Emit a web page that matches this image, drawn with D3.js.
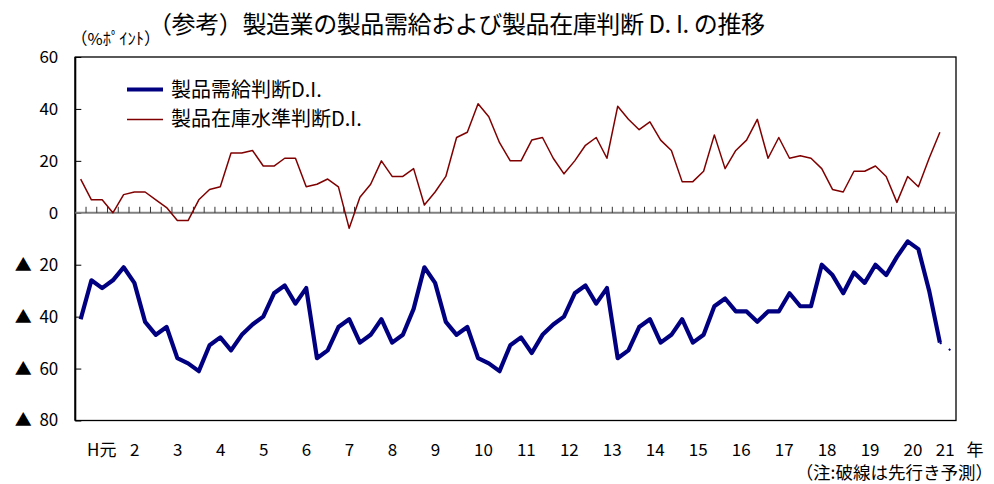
<!DOCTYPE html>
<html><head><meta charset="utf-8">
<script src="https://cdn.jsdelivr.net/npm/d3@7"></script>
<style>
body{margin:0;background:#fff}
svg{display:block}
text{font-family:"Noto Sans CJK JP","Noto Sans",sans-serif;fill:#000}
</style>
</head><body>
<svg id="c" width="994" height="484"></svg>
<script>
// ---- data ----
const yearLabels = ["H元","2","3","4","5","6","7","8","9","10","11","12","13","14","15","16","17","18","19","20","21"];
const quartersPerYear = [4,4,4,4,4,4,4,4,4,4,4,4,4,4,4,4,4,4,4,4,2];
const categories = [];
yearLabels.forEach((yl, k) => { for (let q = 1; q <= quartersPerYear[k]; q++) categories.push(yl + "-" + q); });

// 製品需給判断D.I. (actual, through 21-1)
const demandDI = [-41,-26,-29,-26,-21,-27,-42,-47,-44,-56,
  -58,-61,-51,-48,-53,-47,-43,-40,-31,-28,
  -35,-29,-56,-53,-44,-41,-50,-47,-41,-50,
  -47,-37,-21,-27,-42,-47,-44,-56,-58,-61,
  -51,-48,-54,-47,-43,-40,-31,-28,-35,-29,
  -56,-53,-44,-41,-50,-47,-41,-50,-47,-36,
  -33,-38,-38,-42,-38,-38,-31,-36,-36,-20,
  -24,-31,-23,-27,-20,-24,-17,-11,-14,-30,-50];
// 先行き予測 (21-2)
const demandForecast = [-53];
// 製品在庫水準判断D.I.
const inventoryDI = [13,5,5,0,7,8,8,5,2,-3,
  -3,5,9,10,23,23,24,18,18,21,
  21,10,11,13,10,-6,6,11,20,14,
  14,17,3,8,14,29,31,42,37,27,
  20,20,28,29,21,15,20,26,29,21,
  41,36,32,35,28,24,12,12,16,30,
  17,24,28,36,21,29,21,22,21,17,
  9,8,16,16,18,14,4,14,10,21,31];

const yTicks = [60,40,20,0,-20,-40,-60,-80];
const yTickLabels = ["60","40","20","0","▲\u00a0\u00a020","▲\u00a0\u00a040","▲\u00a0\u00a060","▲\u00a0\u00a080"];
const seriesNames = ["製品需給判断D.I.","製品在庫水準判断D.I."];
const titleText = "（参考）製造業の製品需給および製品在庫判断 D. I. の推移";
const unitText = "（%ﾎﾟｲﾝﾄ）";
const noteText = "（注:破線は先行き予測）";
const yearUnit = "年";

// ---- layout ----
const svg = d3.select("#c");
const L = 75.3, R = 956, T = 57, B = 420.5;
const x = d3.scaleBand().domain(categories).range([L, R]).padding(0);
const bw = x.bandwidth();
const y = d3.scaleLinear().domain([-80, 60]).range([B, T]);
const cx = i => x(categories[i]) + bw / 2;

const navy = "#000080", maroon = "#800000";

// title
svg.append("text").attr("x", 148).attr("y", 33).attr("font-size", 24)
  .attr("textLength", 617).attr("lengthAdjust", "spacing").text(titleText);
svg.append("text").attr("x", 71).attr("y", 45).attr("font-size", 16.5).text(unitText);

// frame
svg.append("rect").attr("x", L).attr("y", T).attr("width", R - L).attr("height", B - T)
  .attr("fill", "none").attr("stroke", "#000").attr("stroke-width", 1.3);

// y axis
const yAxis = d3.axisLeft(y).tickValues(yTicks).tickSizeInner(-6).tickSizeOuter(0)
  .tickPadding(17).tickFormat((d, i) => yTickLabels[i]);
const ga = svg.append("g").attr("transform", `translate(${L},0)`).call(yAxis);
ga.select(".domain").remove();
ga.selectAll(".tick line").attr("stroke", "#000");
ga.selectAll(".tick text").attr("font-size", 17).attr("font-family", '"Noto Sans CJK JP",sans-serif').attr("fill", "#000");
svg.append("line").attr("x1", L).attr("x2", L).attr("y1", T).attr("y2", B).attr("stroke", "#000").attr("stroke-width", 2);

// zero (category) axis
svg.append("line").attr("x1", L).attr("x2", R).attr("y1", y(0)).attr("y2", y(0))
  .attr("stroke", "#808080").attr("stroke-width", 2);
svg.append("g").selectAll("line").data(categories.slice(1)).join("line")
  .attr("x1", d => x(d)).attr("x2", d => x(d))
  .attr("y1", y(0)).attr("y2", y(0) - 6)
  .attr("stroke", "#333").attr("stroke-width", 1);

// year labels
let start = 0;
const yearPos = yearLabels.map((yl, k) => {
  const n = quartersPerYear[k];
  const c = x(categories[start]) + n * bw / 2;
  start += n;
  return c;
});
svg.append("g").selectAll("text").data(yearLabels).join("text")
  .attr("x", (d, i) => yearPos[i] + (d.length === 1 ? -5 : (d === "H元" ? 5 : 0)))
  .attr("y", 456).attr("text-anchor", "middle").attr("font-size", 17).text(d => d);
svg.append("text").attr("x", 975).attr("y", 456).attr("text-anchor", "middle").attr("font-size", 17).text(yearUnit);
svg.append("text").attr("x", 993).attr("y", 479).attr("text-anchor", "end").attr("font-size", 17.5).text(noteText);

// lines
const line = d3.line().x(d => cx(d.i)).y(d => y(d.v));
const invPts = inventoryDI.map((v, i) => ({ i, v }));
const demPts = demandDI.map((v, i) => ({ i, v }));
const fcPts = [demPts[demPts.length - 1]].concat(demandForecast.map((v, j) => ({ i: demandDI.length + j, v })));

svg.append("path").attr("d", line(invPts)).attr("fill", "none")
  .attr("stroke", maroon).attr("stroke-width", 1.5).attr("stroke-linejoin", "round");
svg.append("path").attr("d", line(fcPts)).attr("fill", "none")
  .attr("stroke", navy).attr("stroke-width", 2).attr("stroke-dasharray", "2,9,2");
svg.append("path").attr("d", line(demPts)).attr("fill", "none")
  .attr("stroke", navy).attr("stroke-width", 4.2).attr("stroke-linejoin", "round");

// legend
const lg = svg.append("g");
lg.append("line").attr("x1", 127).attr("x2", 163).attr("y1", 89.5).attr("y2", 89.5).attr("stroke", navy).attr("stroke-width", 4.2);
lg.append("line").attr("x1", 127).attr("x2", 163).attr("y1", 119.5).attr("y2", 119.5).attr("stroke", maroon).attr("stroke-width", 1.5);
lg.append("text").attr("x", 171).attr("y", 97).attr("font-size", 20).text(seriesNames[0]);
lg.append("text").attr("x", 171).attr("y", 126).attr("font-size", 20).text(seriesNames[1]);
</script>
</body></html>
